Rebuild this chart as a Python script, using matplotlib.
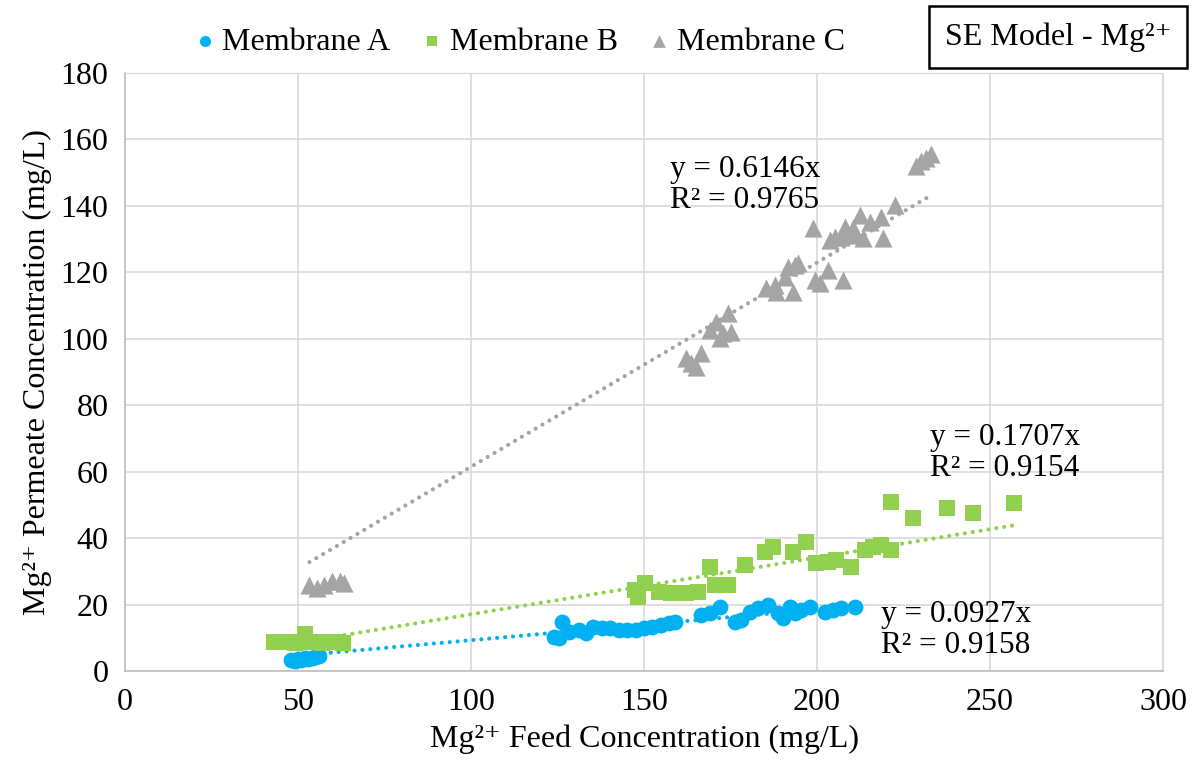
import matplotlib
matplotlib.use("Agg")
import matplotlib.pyplot as plt
import numpy as np

plt.rcParams['font.family'] = ['Liberation Serif', 'DejaVu Serif']

# ---------------- data ----------------
a_x = [48, 49, 50, 51, 52, 53, 54, 55, 56,
       123.9, 125.4, 126.2, 128.2, 131.1, 133.1, 135.4, 137.8, 140.3, 142.7, 145, 147.6,
       149.9, 152.2, 154.8, 157.1, 159.1, 166.6, 169.2, 172, 176.4, 178.1, 180.7, 183,
       185.9, 188.8, 190.2, 192.2, 193.7, 195.4, 198, 202.3, 204.6, 206.9, 211]
a_y = [3.2, 3.0, 3.5, 3.2, 3.8, 3.5, 4.0, 4.2, 4.5,
       10.2, 9.9, 14.8, 11.7, 12.3, 11.4, 13.3, 13.0, 13.0, 12.3, 12.3, 12.3,
       13.0, 13.3, 13.9, 14.5, 14.8, 16.9, 17.5, 19.3, 14.8, 15.4, 17.8, 19.0,
       19.9, 17.5, 16.0, 19.3, 17.5, 18.4, 19.3, 17.8, 18.4, 19.0, 19.3]

b_x = [43, 45, 47, 49, 51, 52, 53, 55, 57, 59, 61, 63,
       147.5, 148.4, 150.4, 154.2, 157.9, 162, 165.7, 169.2, 170.6, 174.4, 179.3,
       185, 187.3, 193.1, 196.8, 199.7, 203.2, 205.5, 209.8, 213.8, 216.1, 218.4, 221.3,
       221.3, 227.7, 237.5, 245.2, 257]
b_y = [8.7, 8.6, 8.8, 8.5, 8.7, 11.2, 8.6, 8.8, 8.5, 8.6, 8.7, 8.5,
       24.4, 22.3, 26.5, 23.8, 23.5, 23.5, 23.8, 31.3, 25.9, 25.9, 31.9,
       35.8, 37.3, 35.8, 38.9, 32.5, 32.8, 33.4, 31.3, 36.4, 37.3, 38.0, 36.4,
       50.9, 46.1, 49.1, 47.6, 50.6]

c_x = [53.3, 55.6, 57.6, 59.7, 62.0, 63.4,
       162.2, 163.7, 165.1, 166.6, 169.2, 170.9, 172.9, 174.4, 175.2, 172.0,
       185.3, 187.9, 190.8, 191.6, 193.7, 194.5, 193.1, 188.2,
       199.4, 200.9, 203.2, 207.5, 198.8,
       203.7, 205.2, 206.9, 208.1, 209.5, 210.4, 212.4, 213.3, 215.3, 218.4, 219.0, 222.5,
       228.5, 230.0, 231.5, 233.0]
c_y = [26.0, 25.0, 26.0, 27.0, 27.0, 26.5,
       94.3, 92.8, 91.6, 95.8, 102.7, 105.1, 101.8, 107.8, 102.1, 100.3,
       115.4, 116.3, 118.7, 121.7, 122.3, 122.9, 114.2, 114.2,
       117.8, 116.9, 120.8, 117.8, 133.4,
       129.8, 130.7, 130.7, 133.7, 131.3, 133.4, 137.3, 130.4, 135.2, 136.7, 130.4, 140.4,
       152.0, 153.5, 154.5, 155.5]

slopes = {'A': 0.0927, 'B': 0.1707, 'C': 0.6146}
r2 = {'A': 0.9158, 'B': 0.9154, 'C': 0.9765}

col_a, col_b, col_c = '#00B0F0', '#92D050', '#A5A5A5'

# ---------------- figure ----------------
fig = plt.figure(figsize=(11.94, 7.73), dpi=100)
ax = fig.add_axes([125/1194, 1 - 671/773, (1163-125)/1194, 598/773])

ax.scatter(a_x, a_y, s=130, marker='o', color=col_a, zorder=3, label='Membrane A', linewidths=0)
ax.scatter(b_x, b_y, s=125, marker='s', color=col_b, zorder=3, label='Membrane B', linewidths=0)
ax.scatter(c_x, c_y, s=170, marker='^', color=col_c, zorder=3, label='Membrane C', linewidths=0)

for xs, k, col in [(a_x, 'A', col_a), (b_x, 'B', col_b), (c_x, 'C', col_c)]:
    xx = np.array([min(xs), max(xs)])
    ax.plot(xx, slopes[k] * xx, linestyle=(0, (0.01, 1.9)), color=col, linewidth=3.0,
            dash_capstyle='round', zorder=2)

ax.text(157.6, 146.4, f"y = {slopes['C']}x\nR² = {r2['C']}", fontsize=22.5, va='center',
        ha='left', linespacing=1.1)
ax.text(232.6, 65.7, f"y = {slopes['B']}x\nR² = {r2['B']}", fontsize=22.5, va='center',
        ha='left', linespacing=1.1)
ax.text(218.4, 12.3, f"y = {slopes['A']}x\nR² = {r2['A']}", fontsize=22.5, va='center',
        ha='left', linespacing=1.1)

ax.set_xlim(0, 300)
ax.set_ylim(0, 180)
ax.set_xticks(np.arange(0, 301, 50))
ax.set_yticks(np.arange(0, 181, 20))
ax.grid(True, color='#D9D9D9', linewidth=1.2)
ax.set_axisbelow(True)
ax.tick_params(length=0, labelsize=23, pad=12, labelcolor='#000000')
for s in ['top', 'right']:
    ax.spines[s].set_color('#D9D9D9')
for s in ['left', 'bottom']:
    ax.spines[s].set_color('#BFBFBF')
    ax.spines[s].set_linewidth(1.2)

ax.set_xlabel('Mg²⁺ Feed Concentration (mg/L)', fontsize=23, labelpad=6)
ax.set_ylabel('Mg²⁺ Permeate Concentration (mg/L)', fontsize=23, labelpad=6)

fig.legend(loc='center', bbox_to_anchor=(517/1194, 1 - 42/773), ncol=3, frameon=False,
           fontsize=23, handletextpad=0.05, columnspacing=0.8, markerscale=0.7,
           handlelength=1.0)

fig.text(1058/1194, 1 - 37/773, 'SE Model - Mg²⁺', fontsize=23, ha='center',
         va='center', bbox=dict(boxstyle='square,pad=0.5', facecolor='white',
                                edgecolor='black', linewidth=1.8))

fig.savefig('out.png', dpi=100)
